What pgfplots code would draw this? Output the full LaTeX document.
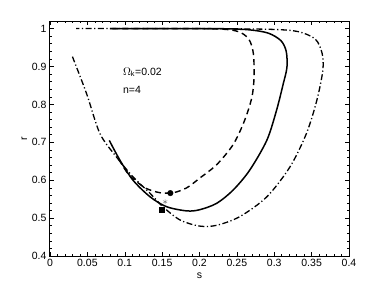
\documentclass[border=0pt]{standalone}
\usepackage{pgfplots}
\pgfplotsset{compat=1.18}
\usepackage{fontspec}
\setmainfont{Liberation Sans}
\usetikzlibrary{plotmarks}
\begin{document}
\begin{tikzpicture}
\begin{axis}[
  scale only axis, width=299pt, height=235pt,
  xmin=0, xmax=0.4, ymin=0.4, ymax=1.02,
  xtick={0,0.05,...,0.4}, ytick={0.4,0.5,...,1.0},
  xticklabels={0,0.05,0.1,0.15,0.2,0.25,0.3,0.35,0.4},
  yticklabels={0.4,0.5,0.6,0.7,0.8,0.9,1},
  minor x tick num=4, minor y tick num=4,
  tick align=inside, tick style={black, line width=0.5pt},
  major tick length=4pt, minor tick length=2pt,
  axis line style={line width=1pt},
  tick label style={font=\fontsize{10.5}{12}\selectfont},
  /pgf/number format/assume math mode=true,
  xlabel={s}, ylabel={r},
  label style={font=\fontsize{10.5}{12}\selectfont},
  xlabel style={yshift=1pt},
  ylabel style={yshift=-2pt},
  clip=false,
]
% dashed
\addplot[black, line width=1.4pt, dash pattern=on 6pt off 4pt, smooth, tension=0.5] coordinates {
(0.092,0.655)(0.104,0.618)(0.116,0.596)(0.129,0.578)(0.147,0.567)(0.165,0.567)(0.183,0.580)
(0.200,0.605)(0.223,0.641)(0.245,0.694)(0.260,0.756)(0.270,0.818)(0.273,0.872)(0.272,0.935)
(0.266,0.972)(0.252,0.992)(0.225,0.999)(0.150,1.0)(0.080,1.0)};
% solid
\addplot[black, line width=1.5pt, smooth, tension=0.5] coordinates {
(0.0793,0.705)(0.0935,0.653)(0.111,0.600)(0.134,0.556)(0.156,0.530)(0.183,0.519)(0.200,0.522)
(0.223,0.539)(0.245,0.574)(0.267,0.626)(0.290,0.705)(0.303,0.784)(0.312,0.854)(0.317,0.898)
(0.316,0.940)(0.309,0.968)(0.292,0.988)(0.265,0.997)(0.220,1.0)(0.150,1.0)(0.080,1.0)};
% dash-dot
\addplot[black, line width=1.3pt, dash pattern=on 6pt off 2.5pt on 1.2pt off 2.5pt, smooth, tension=0.5] coordinates {
(0.030,0.926)(0.049,0.828)(0.0668,0.723)(0.089,0.661)(0.111,0.609)(0.134,0.565)(0.151,0.530)
(0.174,0.495)(0.200,0.479)(0.223,0.481)(0.254,0.504)(0.290,0.556)(0.321,0.635)(0.343,0.723)
(0.357,0.811)(0.365,0.890)(0.364,0.935)(0.355,0.972)(0.332,0.992)(0.295,0.998)(0.200,1.0)(0.100,1.0)(0.035,1.0)};
% markers
\addplot[only marks, mark=*, mark size=2.8pt, black] coordinates {(0.161,0.566)};
\addplot[only marks, mark=square*, mark size=2.4pt, black] coordinates {(0.149,0.522)};
\addplot[only marks, mark=asterisk, mark size=2.4pt, gray] coordinates {(0.154,0.543)};
\node[anchor=west, font=\fontsize{10.5}{12}\selectfont] at (axis cs:0.093,0.885) {$\Omega_{\mathrm{k}}$=0.02};
\node[anchor=west, font=\fontsize{10.5}{12}\selectfont] at (axis cs:0.093,0.838) {n=4};
\useasboundingbox ([xshift=-50pt,yshift=-31pt]rel axis cs:0,0) rectangle ([xshift=33pt,yshift=21pt]rel axis cs:1,1);
\end{axis}
\end{tikzpicture}
\end{document}
